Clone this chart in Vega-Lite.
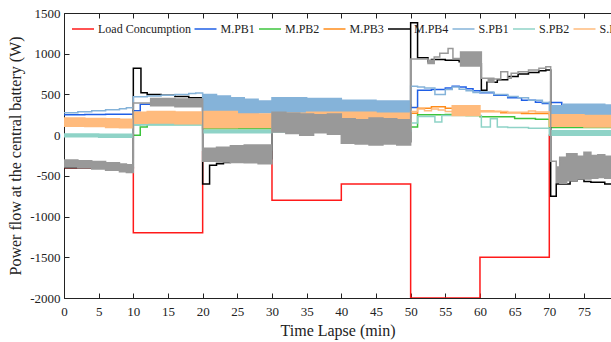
{
  "$schema": "https://vega.github.io/schema/vega-lite/v6.json",
  "width": 547,
  "height": 285,
  "autosize": {"type": "none"},
  "padding": {"left": 64, "top": 13, "right": 0, "bottom": 44},
  "background": "white",
  "config": {
    "view": {"stroke": null},
    "font": "'Liberation Serif', 'Times New Roman', Times, serif",
    "text": {"font": "'Liberation Serif', 'Times New Roman', Times, serif"},
    "axis": {"labelFont": "'Liberation Serif', 'Times New Roman', Times, serif", "titleFont": "'Liberation Serif', 'Times New Roman', Times, serif", "labelFontSize": 13, "titleFontSize": 16, "titleFontWeight": "normal", "labelColor": "#222", "titleColor": "#222", "domainColor": "#222", "tickColor": "#222", "grid": false},
    "legend": {"orient": "none", "legendX": 7, "legendY": 4, "direction": "horizontal", "columns": 9, "symbolType": "stroke", "symbolSize": 484, "symbolStrokeWidth": 1.5, "labelFont": "'Liberation Serif', 'Times New Roman', Times, serif", "labelFontSize": 12, "labelColor": "#222", "labelOffset": 3, "columnPadding": 0.5, "title": null}
  },
  "datasets": {
    "lines": [
      {"s": "Load Concumption", "t": 0, "v": -400}, {"s": "Load Concumption", "t": 10, "v": -1200}, {"s": "Load Concumption", "t": 20, "v": -200}, {"s": "Load Concumption", "t": 30, "v": -800}, {"s": "Load Concumption", "t": 40, "v": -600}, {"s": "Load Concumption", "t": 50, "v": -2000}, {"s": "Load Concumption", "t": 60, "v": -1500}, {"s": "Load Concumption", "t": 70, "v": 0}, {"s": "Load Concumption", "t": 80, "v": 0},
      {"s": "M.PB1", "t": 0, "v": 250}, {"s": "M.PB1", "t": 3, "v": 252}, {"s": "M.PB1", "t": 6, "v": 258}, {"s": "M.PB1", "t": 10, "v": 300}, {"s": "M.PB1", "t": 11, "v": 380}, {"s": "M.PB1", "t": 20, "v": 290}, {"s": "M.PB1", "t": 30, "v": 390}, {"s": "M.PB1", "t": 40, "v": 370}, {"s": "M.PB1", "t": 50, "v": 340}, {"s": "M.PB1", "t": 51, "v": 550}, {"s": "M.PB1", "t": 53, "v": 560}, {"s": "M.PB1", "t": 55, "v": 580}, {"s": "M.PB1", "t": 56, "v": 600}, {"s": "M.PB1", "t": 57, "v": 590}, {"s": "M.PB1", "t": 58, "v": 570}, {"s": "M.PB1", "t": 59, "v": 545}, {"s": "M.PB1", "t": 60, "v": 520}, {"s": "M.PB1", "t": 62, "v": 490}, {"s": "M.PB1", "t": 64, "v": 460}, {"s": "M.PB1", "t": 66, "v": 430}, {"s": "M.PB1", "t": 68, "v": 405}, {"s": "M.PB1", "t": 69, "v": 390}, {"s": "M.PB1", "t": 70, "v": 400}, {"s": "M.PB1", "t": 71.8, "v": 340}, {"s": "M.PB1", "t": 80, "v": 330},
      {"s": "M.PB2", "t": 0, "v": 5}, {"s": "M.PB2", "t": 10, "v": 0}, {"s": "M.PB2", "t": 11, "v": 100}, {"s": "M.PB2", "t": 12, "v": 130}, {"s": "M.PB2", "t": 20, "v": 80}, {"s": "M.PB2", "t": 30, "v": 50}, {"s": "M.PB2", "t": 40, "v": 90}, {"s": "M.PB2", "t": 50, "v": 100}, {"s": "M.PB2", "t": 51, "v": 250}, {"s": "M.PB2", "t": 55, "v": 255}, {"s": "M.PB2", "t": 58, "v": 240}, {"s": "M.PB2", "t": 60, "v": 225}, {"s": "M.PB2", "t": 65, "v": 205}, {"s": "M.PB2", "t": 68, "v": 195}, {"s": "M.PB2", "t": 70, "v": 95}, {"s": "M.PB2", "t": 80, "v": 90},
      {"s": "M.PB3", "t": 0, "v": 150}, {"s": "M.PB3", "t": 10, "v": 140}, {"s": "M.PB3", "t": 11, "v": 230}, {"s": "M.PB3", "t": 20, "v": 190}, {"s": "M.PB3", "t": 30, "v": 200}, {"s": "M.PB3", "t": 40, "v": 220}, {"s": "M.PB3", "t": 50, "v": 270}, {"s": "M.PB3", "t": 51, "v": 330}, {"s": "M.PB3", "t": 53, "v": 350}, {"s": "M.PB3", "t": 55, "v": 330}, {"s": "M.PB3", "t": 57, "v": 320}, {"s": "M.PB3", "t": 59, "v": 300}, {"s": "M.PB3", "t": 60, "v": 290}, {"s": "M.PB3", "t": 63, "v": 275}, {"s": "M.PB3", "t": 66, "v": 265}, {"s": "M.PB3", "t": 70, "v": 250}, {"s": "M.PB3", "t": 80, "v": 250},
      {"s": "M.PB4", "t": 0, "v": -400}, {"s": "M.PB4", "t": 10, "v": 820}, {"s": "M.PB4", "t": 11.1, "v": 520}, {"s": "M.PB4", "t": 12, "v": 500}, {"s": "M.PB4", "t": 14, "v": 490}, {"s": "M.PB4", "t": 16, "v": 475}, {"s": "M.PB4", "t": 18, "v": 460}, {"s": "M.PB4", "t": 20, "v": -600}, {"s": "M.PB4", "t": 21, "v": -370}, {"s": "M.PB4", "t": 22, "v": -350}, {"s": "M.PB4", "t": 23, "v": -335}, {"s": "M.PB4", "t": 24, "v": -320}, {"s": "M.PB4", "t": 25, "v": -305}, {"s": "M.PB4", "t": 27, "v": -290}, {"s": "M.PB4", "t": 30, "v": 300}, {"s": "M.PB4", "t": 32, "v": 250}, {"s": "M.PB4", "t": 34, "v": 200}, {"s": "M.PB4", "t": 36, "v": 100}, {"s": "M.PB4", "t": 38, "v": 150}, {"s": "M.PB4", "t": 40, "v": 50}, {"s": "M.PB4", "t": 43, "v": 0}, {"s": "M.PB4", "t": 46, "v": -70}, {"s": "M.PB4", "t": 48, "v": -80}, {"s": "M.PB4", "t": 50, "v": 1380}, {"s": "M.PB4", "t": 51, "v": 950}, {"s": "M.PB4", "t": 52.5, "v": 900}, {"s": "M.PB4", "t": 53, "v": 930}, {"s": "M.PB4", "t": 55, "v": 920}, {"s": "M.PB4", "t": 57, "v": 900}, {"s": "M.PB4", "t": 58.5, "v": 880}, {"s": "M.PB4", "t": 60.2, "v": 550}, {"s": "M.PB4", "t": 61, "v": 650}, {"s": "M.PB4", "t": 62.5, "v": 680}, {"s": "M.PB4", "t": 64, "v": 720}, {"s": "M.PB4", "t": 65.5, "v": 750}, {"s": "M.PB4", "t": 67, "v": 770}, {"s": "M.PB4", "t": 68.5, "v": 790}, {"s": "M.PB4", "t": 69.5, "v": 800}, {"s": "M.PB4", "t": 70.2, "v": -750}, {"s": "M.PB4", "t": 71, "v": -600}, {"s": "M.PB4", "t": 73, "v": -560}, {"s": "M.PB4", "t": 74, "v": -540}, {"s": "M.PB4", "t": 75, "v": -570}, {"s": "M.PB4", "t": 76, "v": -580}, {"s": "M.PB4", "t": 78, "v": -600}, {"s": "M.PB4", "t": 80, "v": -600}
    ],
    "bands": [
      {"s": "S.PB1", "t": 0, "lo": 275, "hi": 275}, {"s": "S.PB1", "t": 2, "lo": 287, "hi": 287}, {"s": "S.PB1", "t": 4, "lo": 300, "hi": 300}, {"s": "S.PB1", "t": 6, "lo": 312, "hi": 312}, {"s": "S.PB1", "t": 8, "lo": 325, "hi": 325}, {"s": "S.PB1", "t": 9, "lo": 335, "hi": 335}, {"s": "S.PB1", "t": 10, "lo": 470, "hi": 470}, {"s": "S.PB1", "t": 12, "lo": 480, "hi": 480}, {"s": "S.PB1", "t": 14, "lo": 490, "hi": 490}, {"s": "S.PB1", "t": 16, "lo": 500, "hi": 500}, {"s": "S.PB1", "t": 18, "lo": 510, "hi": 510}, {"s": "S.PB1", "t": 19, "lo": 518, "hi": 518}, {"s": "S.PB1", "t": 20, "lo": 260, "hi": 500}, {"s": "S.PB1", "t": 22, "lo": 265, "hi": 480}, {"s": "S.PB1", "t": 24, "lo": 270, "hi": 460}, {"s": "S.PB1", "t": 26, "lo": 270, "hi": 440}, {"s": "S.PB1", "t": 28, "lo": 275, "hi": 420}, {"s": "S.PB1", "t": 30, "lo": 200, "hi": 460}, {"s": "S.PB1", "t": 35, "lo": 200, "hi": 450}, {"s": "S.PB1", "t": 40, "lo": 180, "hi": 430}, {"s": "S.PB1", "t": 45, "lo": 180, "hi": 420}, {"s": "S.PB1", "t": 50, "lo": 600, "hi": 600}, {"s": "S.PB1", "t": 51, "lo": 590, "hi": 590}, {"s": "S.PB1", "t": 52, "lo": 580, "hi": 580}, {"s": "S.PB1", "t": 53.5, "lo": 500, "hi": 500}, {"s": "S.PB1", "t": 55, "lo": 560, "hi": 560}, {"s": "S.PB1", "t": 56, "lo": 590, "hi": 590}, {"s": "S.PB1", "t": 57, "lo": 565, "hi": 565}, {"s": "S.PB1", "t": 58, "lo": 545, "hi": 545}, {"s": "S.PB1", "t": 59, "lo": 525, "hi": 525}, {"s": "S.PB1", "t": 60, "lo": 530, "hi": 530}, {"s": "S.PB1", "t": 62, "lo": 500, "hi": 500}, {"s": "S.PB1", "t": 64, "lo": 475, "hi": 475}, {"s": "S.PB1", "t": 65.5, "lo": 460, "hi": 460}, {"s": "S.PB1", "t": 67, "lo": 430, "hi": 430}, {"s": "S.PB1", "t": 69, "lo": 400, "hi": 400}, {"s": "S.PB1", "t": 70, "lo": 220, "hi": 360}, {"s": "S.PB1", "t": 72, "lo": 230, "hi": 380}, {"s": "S.PB1", "t": 75, "lo": 220, "hi": 380}, {"s": "S.PB1", "t": 78, "lo": 230, "hi": 370}, {"s": "S.PB1", "t": 80, "lo": 230, "hi": 370},
      {"s": "S.PB2", "t": 0, "lo": -20, "hi": 15}, {"s": "S.PB2", "t": 5, "lo": -25, "hi": 10}, {"s": "S.PB2", "t": 10, "lo": 120, "hi": 140}, {"s": "S.PB2", "t": 11, "lo": 125, "hi": 140}, {"s": "S.PB2", "t": 20, "lo": 30, "hi": 60}, {"s": "S.PB2", "t": 30, "lo": 40, "hi": 70}, {"s": "S.PB2", "t": 40, "lo": 50, "hi": 80}, {"s": "S.PB2", "t": 50, "lo": 150, "hi": 150}, {"s": "S.PB2", "t": 51, "lo": 230, "hi": 230}, {"s": "S.PB2", "t": 53.5, "lo": 160, "hi": 160}, {"s": "S.PB2", "t": 54.5, "lo": 240, "hi": 240}, {"s": "S.PB2", "t": 58, "lo": 240, "hi": 240}, {"s": "S.PB2", "t": 60.2, "lo": 100, "hi": 100}, {"s": "S.PB2", "t": 61.5, "lo": 200, "hi": 200}, {"s": "S.PB2", "t": 62.5, "lo": 100, "hi": 100}, {"s": "S.PB2", "t": 64, "lo": 95, "hi": 95}, {"s": "S.PB2", "t": 67, "lo": 85, "hi": 85}, {"s": "S.PB2", "t": 70, "lo": 0, "hi": 55}, {"s": "S.PB2", "t": 80, "lo": 0, "hi": 55},
      {"s": "S.PB3", "t": 0, "lo": 110, "hi": 210}, {"s": "S.PB3", "t": 3, "lo": 105, "hi": 205}, {"s": "S.PB3", "t": 6, "lo": 95, "hi": 200}, {"s": "S.PB3", "t": 8, "lo": 90, "hi": 195}, {"s": "S.PB3", "t": 10, "lo": 145, "hi": 280}, {"s": "S.PB3", "t": 12, "lo": 150, "hi": 290}, {"s": "S.PB3", "t": 16, "lo": 140, "hi": 285}, {"s": "S.PB3", "t": 20, "lo": 90, "hi": 290}, {"s": "S.PB3", "t": 25, "lo": 95, "hi": 260}, {"s": "S.PB3", "t": 30, "lo": 60, "hi": 270}, {"s": "S.PB3", "t": 35, "lo": 50, "hi": 280}, {"s": "S.PB3", "t": 40, "lo": 60, "hi": 280}, {"s": "S.PB3", "t": 45, "lo": 80, "hi": 270}, {"s": "S.PB3", "t": 50, "lo": 290, "hi": 290}, {"s": "S.PB3", "t": 51, "lo": 320, "hi": 320}, {"s": "S.PB3", "t": 52, "lo": 300, "hi": 300}, {"s": "S.PB3", "t": 53, "lo": 320, "hi": 320}, {"s": "S.PB3", "t": 54, "lo": 310, "hi": 310}, {"s": "S.PB3", "t": 55, "lo": 290, "hi": 290}, {"s": "S.PB3", "t": 56, "lo": 240, "hi": 360}, {"s": "S.PB3", "t": 60, "lo": 290, "hi": 300}, {"s": "S.PB3", "t": 62, "lo": 290, "hi": 290}, {"s": "S.PB3", "t": 64, "lo": 280, "hi": 280}, {"s": "S.PB3", "t": 66, "lo": 280, "hi": 280}, {"s": "S.PB3", "t": 67, "lo": 295, "hi": 295}, {"s": "S.PB3", "t": 68, "lo": 285, "hi": 285}, {"s": "S.PB3", "t": 70, "lo": 110, "hi": 250}, {"s": "S.PB3", "t": 75, "lo": 100, "hi": 240}, {"s": "S.PB3", "t": 80, "lo": 100, "hi": 240},
      {"s": "S.PB4", "t": 0, "lo": -390, "hi": -305}, {"s": "S.PB4", "t": 2, "lo": -400, "hi": -315}, {"s": "S.PB4", "t": 4, "lo": -415, "hi": -325}, {"s": "S.PB4", "t": 6, "lo": -430, "hi": -340}, {"s": "S.PB4", "t": 8, "lo": -450, "hi": -355}, {"s": "S.PB4", "t": 9, "lo": -460, "hi": -365}, {"s": "S.PB4", "t": 10, "lo": 395, "hi": 395}, {"s": "S.PB4", "t": 12.5, "lo": 360, "hi": 450}, {"s": "S.PB4", "t": 16, "lo": 350, "hi": 445}, {"s": "S.PB4", "t": 20, "lo": -320, "hi": -160}, {"s": "S.PB4", "t": 22, "lo": -330, "hi": -150}, {"s": "S.PB4", "t": 24, "lo": -335, "hi": -130}, {"s": "S.PB4", "t": 26, "lo": -340, "hi": -120}, {"s": "S.PB4", "t": 28, "lo": -350, "hi": -120}, {"s": "S.PB4", "t": 30, "lo": 40, "hi": 280}, {"s": "S.PB4", "t": 32, "lo": 20, "hi": 270}, {"s": "S.PB4", "t": 34, "lo": 0, "hi": 260}, {"s": "S.PB4", "t": 36, "lo": 30, "hi": 250}, {"s": "S.PB4", "t": 38, "lo": 10, "hi": 260}, {"s": "S.PB4", "t": 40, "lo": -100, "hi": 200}, {"s": "S.PB4", "t": 42, "lo": -110, "hi": 190}, {"s": "S.PB4", "t": 44, "lo": -120, "hi": 210}, {"s": "S.PB4", "t": 46, "lo": -110, "hi": 200}, {"s": "S.PB4", "t": 48, "lo": -120, "hi": 190}, {"s": "S.PB4", "t": 50, "lo": 935, "hi": 935}, {"s": "S.PB4", "t": 52.5, "lo": 880, "hi": 920}, {"s": "S.PB4", "t": 53.4, "lo": 960, "hi": 960}, {"s": "S.PB4", "t": 54.2, "lo": 1005, "hi": 1005}, {"s": "S.PB4", "t": 55.4, "lo": 1065, "hi": 1065}, {"s": "S.PB4", "t": 56.1, "lo": 940, "hi": 940}, {"s": "S.PB4", "t": 57.2, "lo": 850, "hi": 1020}, {"s": "S.PB4", "t": 60.2, "lo": 700, "hi": 700}, {"s": "S.PB4", "t": 61.2, "lo": 650, "hi": 700}, {"s": "S.PB4", "t": 62, "lo": 690, "hi": 690}, {"s": "S.PB4", "t": 63, "lo": 780, "hi": 780}, {"s": "S.PB4", "t": 64, "lo": 700, "hi": 700}, {"s": "S.PB4", "t": 64.5, "lo": 760, "hi": 760}, {"s": "S.PB4", "t": 65.5, "lo": 780, "hi": 780}, {"s": "S.PB4", "t": 67, "lo": 800, "hi": 800}, {"s": "S.PB4", "t": 68.5, "lo": 820, "hi": 820}, {"s": "S.PB4", "t": 69.5, "lo": 840, "hi": 840}, {"s": "S.PB4", "t": 70.2, "lo": -320, "hi": -320}, {"s": "S.PB4", "t": 71, "lo": -580, "hi": -390}, {"s": "S.PB4", "t": 71.5, "lo": -590, "hi": -270}, {"s": "S.PB4", "t": 72.5, "lo": -560, "hi": -230}, {"s": "S.PB4", "t": 74, "lo": -540, "hi": -260}, {"s": "S.PB4", "t": 75, "lo": -540, "hi": -210}, {"s": "S.PB4", "t": 76, "lo": -530, "hi": -250}, {"s": "S.PB4", "t": 77, "lo": -520, "hi": -240}, {"s": "S.PB4", "t": 78, "lo": -530, "hi": -260}, {"s": "S.PB4", "t": 80, "lo": -530, "hi": -260}
    ]
  },
  "resolve": {"axis": {"x": "independent"}},
  "layer": [
    {
      "data": {"name": "lines"},
      "mark": {"type": "line", "interpolate": "step-after", "strokeWidth": 1.5, "clip": true},
      "encoding": {
        "x": {"field": "t", "type": "quantitative", "scale": {"domain": [0, 78.9], "nice": false, "zero": false},
              "axis": {"orient": "bottom", "values": [0,5,10,15,20,25,30,35,40,45,50,55,60,65,70,75], "title": "Time Lapse (min)", "tickSize": -5, "labelPadding": 12, "titlePadding": 4, "labelFlush": false}},
        "y": {"field": "v", "type": "quantitative", "scale": {"domain": [-2000, 1500], "nice": false, "zero": false},
              "axis": {"values": [-2000,-1500,-1000,-500,0,500,1000,1500], "title": "Power flow at the central battery (W)", "tickSize": -5, "labelPadding": 9, "titlePadding": 6, "labelExpr": "'' + datum.value"}},
        "color": {"field": "s", "type": "nominal",
                  "scale": {"domain": ["Load Concumption", "M.PB1", "M.PB2", "M.PB3", "M.PB4", "S.PB1", "S.PB2", "S.PB3", "S.PB4"],
                            "range": ["#ff1a1a", "#1f5fe6", "#3cc43c", "#ff8c1a", "#000000", "#85b3d9", "#8fd3c7", "#ffbb7d", "#999999"]},
                  "legend": {}}
      }
    },
    {
      "data": {"name": "bands"},
      "transform": [{"filter": "datum.s === 'S.PB1'"}],
      "mark": {"type": "area", "interpolate": "step-after", "color": "#85b3d9", "stroke": "#85b3d9", "strokeWidth": 1.5, "clip": true},
      "encoding": {
        "x": {"field": "t", "type": "quantitative", "axis": null},
        "y": {"field": "lo", "type": "quantitative"},
        "y2": {"field": "hi"}
      }
    },
    {
      "data": {"name": "bands"},
      "transform": [{"filter": "datum.s === 'S.PB2'"}],
      "mark": {"type": "area", "interpolate": "step-after", "color": "#8fd3c7", "stroke": "#8fd3c7", "strokeWidth": 1.5, "clip": true},
      "encoding": {
        "x": {"field": "t", "type": "quantitative", "axis": null},
        "y": {"field": "lo", "type": "quantitative"},
        "y2": {"field": "hi"}
      }
    },
    {
      "data": {"name": "bands"},
      "transform": [{"filter": "datum.s === 'S.PB3'"}],
      "mark": {"type": "area", "interpolate": "step-after", "color": "#ffbb7d", "stroke": "#ffbb7d", "strokeWidth": 1.5, "clip": true},
      "encoding": {
        "x": {"field": "t", "type": "quantitative", "axis": null},
        "y": {"field": "lo", "type": "quantitative"},
        "y2": {"field": "hi"}
      }
    },
    {
      "data": {"name": "bands"},
      "transform": [{"filter": "datum.s === 'S.PB4'"}],
      "mark": {"type": "area", "interpolate": "step-after", "color": "#999999", "stroke": "#999999", "strokeWidth": 1.5, "clip": true},
      "encoding": {
        "x": {"field": "t", "type": "quantitative",
              "axis": {"orient": "top", "values": [0,5,10,15,20,25,30,35,40,45,50,55,60,65,70,75], "labels": false, "title": null, "tickSize": -5}},
        "y": {"field": "lo", "type": "quantitative"},
        "y2": {"field": "hi"}
      }
    }
  ]
}
